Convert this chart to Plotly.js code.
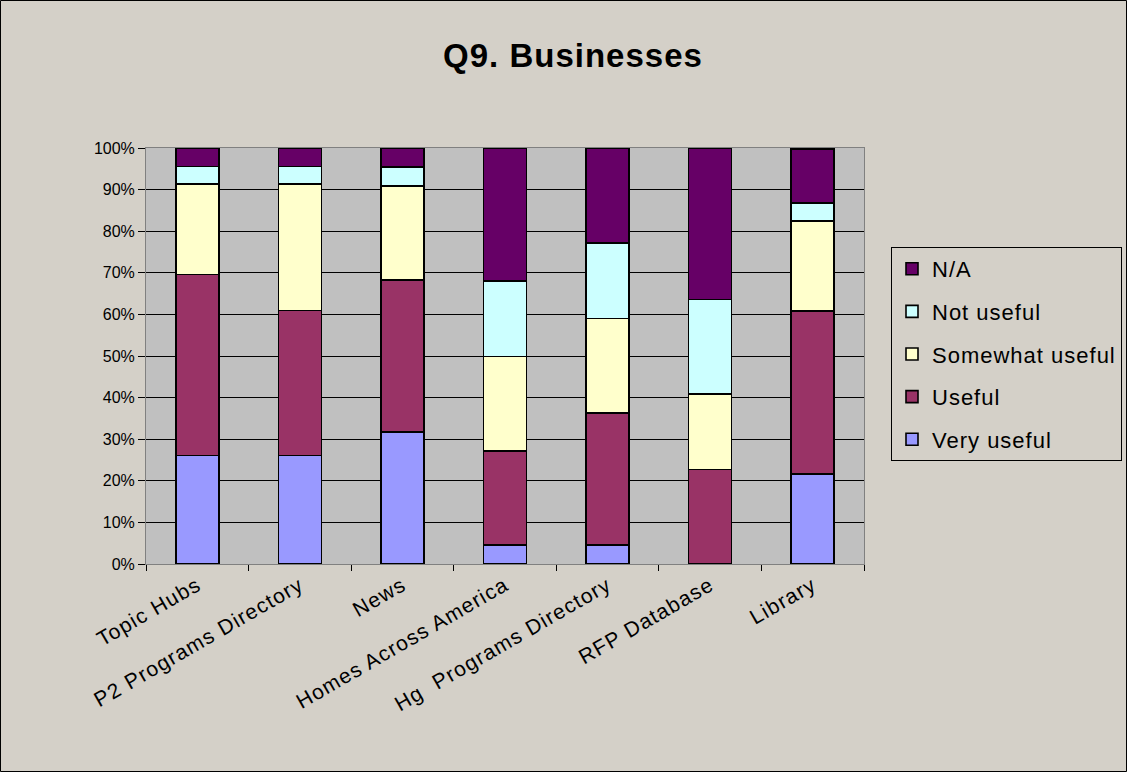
<!DOCTYPE html>
<html>
<head>
<meta charset="utf-8">
<script src="https://cdn.plot.ly/plotly-3.0.1.min.js"></script>
<style>
  html, body { margin: 0; padding: 0; background: #D4D0C8; }
  #chart { width: 1127px; height: 772px; }
  .legendtext { letter-spacing: 1px; }
  .xtick text { letter-spacing: 1.2px; }
  .gtitle { letter-spacing: 1px; }
</style>
</head>
<body>
<div id="chart"></div>
<script>
const categories = ["Topic Hubs", "P2 Programs Directory", "News", "Homes Across America", "Hg  Programs Directory", "RFP Database", "Library"];
const veryUseful   = [26.1, 26.1, 31.8,  4.5,  4.5,  0.0, 21.7];
const useful       = [43.5, 34.8, 36.4, 22.7, 31.8, 22.7, 39.1];
const somewhat     = [21.7, 30.4, 22.7, 22.7, 22.7, 18.2, 21.7];
const notUseful    = [ 4.3,  4.3,  4.5, 18.2, 18.2, 22.7,  4.3];
const na           = [ 4.3,  4.3,  4.5, 31.8, 22.7, 36.4, 13.0];
const seriesNames  = ["Very useful", "Useful", "Somewhat useful", "Not useful", "N/A"];
const seriesColors = ["#9999FF", "#993366", "#FFFFCC", "#CCFFFF", "#660066"];
const seriesValues = [veryUseful, useful, somewhat, notUseful, na];
const yTickVals = [0, 10, 20, 30, 40, 50, 60, 70, 80, 90, 100];
const yTickText = ["0%", "10%", "20%", "30%", "40%", "50%", "60%", "70%", "80%", "90%", "100%"];

const traces = seriesValues.map((vals, i) => ({
  type: "bar",
  name: seriesNames[i],
  x: categories,
  y: vals,
  legendgroup: "g" + i,
  legendrank: seriesValues.length - i,
  marker: { color: seriesColors[i], line: { color: "#000000", width: 1.6 } },
  hoverinfo: "x+y+name"
}));

const L = 146, R = 864, T = 148, B = 564, W = 1127, H = 772;
const pw = R - L, ph = B - T;
const FONT = "Arial, 'Liberation Sans', sans-serif";

const layout = {
  width: W, height: H,
  margin: { l: L, r: W - R, t: T, b: H - B, pad: 0 },
  paper_bgcolor: "#D4D0C8",
  plot_bgcolor: "#C0C0C0",
  barmode: "stack",
  bargap: 0.58,
  font: { family: FONT, color: "#000000" },
  title: {
    text: "<b>Q9. Businesses</b>",
    font: { size: 33, family: FONT, color: "#000" },
    x: 573 / W, xref: "container", xanchor: "center",
    y: 1 - 55 / H, yref: "container", yanchor: "middle"
  },
  xaxis: {
    type: "category",
    tickangle: -30,
    ticks: "outside", tickson: "boundaries", ticklen: 6, tickcolor: "#000",
    showline: true, linecolor: "#808080", linewidth: 1, mirror: true,
    showgrid: false,
    tickfont: { size: 21, family: FONT }
  },
  yaxis: {
    range: [0, 100],
    tickmode: "array",
    tickvals: yTickVals,
    ticktext: yTickText,
    ticks: "outside", ticklen: 7, tickcolor: "#000",
    showline: true, linecolor: "#808080", linewidth: 1, mirror: true,
    showgrid: true, gridcolor: "#000000", gridwidth: 1,
    zeroline: false,
    tickfont: { size: 16, family: FONT }
  },
  legend: {
    xref: "container", yref: "container",
    x: 891 / W, xanchor: "left",
    y: 1 - 247 / H, yanchor: "top",
    bgcolor: "#D4D0C8",
    bordercolor: "#000000", borderwidth: 1,
    traceorder: "grouped",
    tracegroupgap: 11,
    itemwidth: 30,
    font: { size: 22, family: FONT }
  },
  shapes: [{
    type: "rect", xref: "paper", yref: "paper",
    x0: (0.5 - L) / pw, x1: (W - 0.5 - L) / pw,
    y0: (B - (H - 0.5)) / ph, y1: (B - 0.5) / ph,
    line: { color: "#000000", width: 1 }, fillcolor: "rgba(0,0,0,0)", layer: "below"
  }],
  showlegend: true
};

Plotly.newPlot("chart", traces, layout, { displayModeBar: false, staticPlot: true });
</script>
</body>
</html>
